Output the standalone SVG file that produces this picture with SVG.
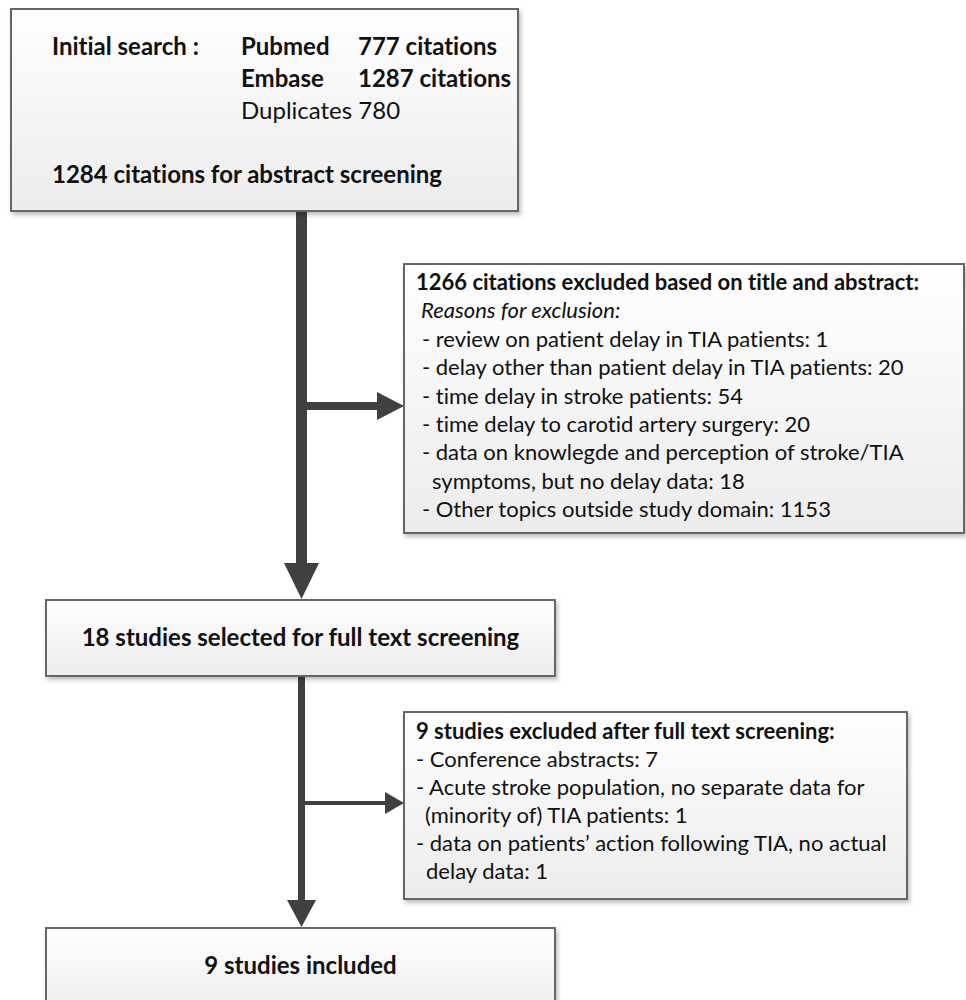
<svg xmlns="http://www.w3.org/2000/svg" width="966" height="1000" viewBox="0 0 966 1000">
<defs>
<linearGradient id="g" x1="0" y1="0" x2="0" y2="1">
<stop offset="0" stop-color="#ffffff"/>
<stop offset="1" stop-color="#ececec"/>
</linearGradient>
<filter id="sh" x="-5%" y="-5%" width="110%" height="115%">
<feDropShadow dx="2" dy="3" stdDeviation="2" flood-color="#000" flood-opacity="0.25"/>
</filter>
<style>
.box{fill:url(#g);stroke:#666;stroke-width:2;filter:url(#sh)}
.t{font-family:Lato,"Open Sans",sans-serif;fill:#111;font-variant-ligatures:none}
.big{font-size:24px}
.sm{font-size:22px}
.b{font-weight:bold}
.i{font-style:italic}
.arr{fill:#404040}
</style>
</defs>
<rect width="966" height="1000" fill="#fff"/>
<g id="connectors">
<path class="arr" d="M296,211 H307 V563 H319 L301.5,599 L284,563 H296 Z"/>
<path class="arr" d="M307,402 H377 V392 L404,406 L377,420 V410 H307 Z"/>
<path class="arr" d="M298,676 H305 V900 H316 L301.5,927 L287,900 H298 Z"/>
<path class="arr" d="M305,801 H385 V792 L404,803 L385,814 V805 H305 Z"/>
</g>
<g id="n1">
<rect class="box" x="11" y="9" width="507" height="202"/>
<text class="t big b" x="52" y="55">Initial search :</text>
<text class="t big b" x="241" y="55">Pubmed</text>
<text class="t big b" x="358" y="55">777 citations</text>
<text class="t big b" x="241" y="87">Embase</text>
<text class="t big b" x="358" y="87">1287 citations</text>
<text class="t big" x="241" y="119">Duplicates 780</text>
<text class="t big b" x="52" y="183">1284 citations for abstract screening</text>
</g>
<g id="n2">
<rect class="box" x="404" y="264" width="560" height="269"/>
<text class="t sm b" x="416" y="290">1266 citations excluded based on title and abstract:</text>
<text class="t sm i" x="421" y="318">Reasons for exclusion:</text>
<text class="t sm" x="422" y="347">- review on patient delay in TIA patients: 1</text>
<text class="t sm" x="422" y="375">- delay other than patient delay in TIA patients: 20</text>
<text class="t sm" x="422" y="404">- time delay in stroke patients: 54</text>
<text class="t sm" x="422" y="432">- time delay to carotid artery surgery: 20</text>
<text class="t sm" x="422" y="460">- data on knowlegde and perception of stroke/TIA</text>
<text class="t sm" x="432" y="489">symptoms, but no delay data: 18</text>
<text class="t sm" x="422" y="517">- Other topics outside study domain: 1153</text>
</g>
<g id="n3">
<rect class="box" x="46" y="600" width="509" height="76"/>
<text class="t big b" x="300.5" y="646" text-anchor="middle">18 studies selected for full text screening</text>
</g>
<g id="n4">
<rect class="box" x="404" y="712" width="503" height="187"/>
<text class="t sm b" x="416" y="739">9 studies excluded after full text screening:</text>
<text class="t sm" x="416" y="767">- Conference abstracts: 7</text>
<text class="t sm" x="416" y="795">- Acute stroke population, no separate data for</text>
<text class="t sm" x="425" y="823">(minority of) TIA patients: 1</text>
<text class="t sm" x="416" y="851">- data on patients’ action following TIA, no actual</text>
<text class="t sm" x="426" y="879">delay data: 1</text>
</g>
<g id="n5">
<rect class="box" x="46" y="928" width="509" height="90"/>
<text class="t big b" x="300.5" y="974" text-anchor="middle">9 studies included</text>
</g>
</svg>
